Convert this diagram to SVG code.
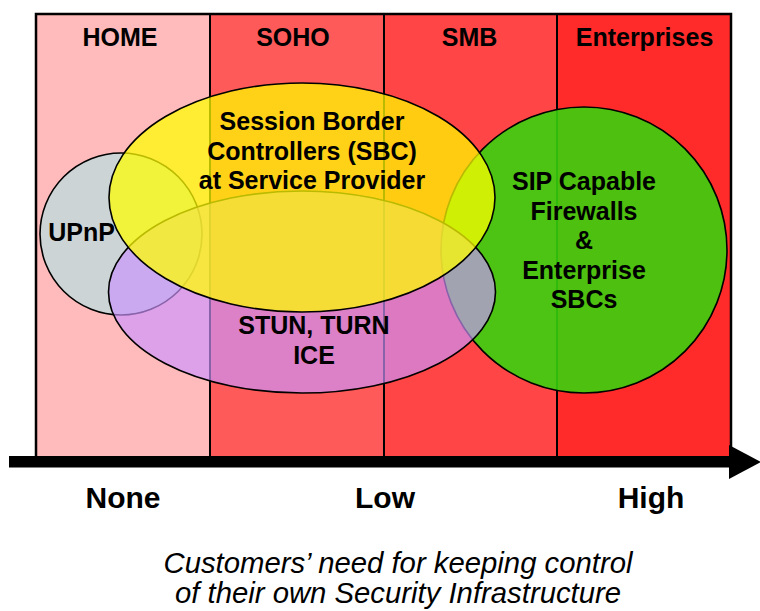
<svg xmlns="http://www.w3.org/2000/svg" width="760" height="611" viewBox="0 0 760 611">
  <style>
    .lbl { font-family: "Liberation Sans", Arial, sans-serif; font-weight: bold; font-size: 25px; fill: #000; text-anchor: middle; }
    .axis { font-family: "Liberation Sans", Arial, sans-serif; font-weight: bold; font-size: 30px; fill: #000; text-anchor: middle; }
    .cap { font-family: "Liberation Sans", Arial, sans-serif; font-style: italic; font-size: 29.3px; fill: #000; text-anchor: middle; }
    .col { stroke: #000; stroke-width: 2; }
    .shape { stroke: #000; stroke-width: 1.6; }
  </style>
  <rect width="760" height="611" fill="#fff"/>

  <g id="columns">
    <rect x="36" y="14" width="174" height="442" fill="#FFBBBB"/>
    <rect x="210" y="14" width="174" height="442" fill="#FF5A5A"/>
    <rect x="384" y="14" width="173" height="442" fill="#FF4545"/>
    <rect x="557" y="14" width="174" height="442" fill="#FF2A2A"/>
    <line class="col" x1="210" y1="14" x2="210" y2="456"/>
    <line class="col" x1="384" y1="14" x2="384" y2="456"/>
    <line class="col" x1="557" y1="14" x2="557" y2="456"/>
    <polyline fill="none" stroke="#000" stroke-width="2.5" points="36,456 36,14 731,14 731,456"/>
  </g>

  <g id="node-sip-firewalls">
    <circle class="shape" cx="584" cy="250" r="143" fill="#34D50D" fill-opacity="0.88"/>
  </g>
  <g id="node-upnp">
    <circle class="shape" cx="121" cy="234" r="81" fill="#CCD4D6"/>
  </g>
  <g id="node-stun">
    <ellipse class="shape" cx="302" cy="292" rx="193.5" ry="101" fill="#CB93FE" fill-opacity="0.67"/>
  </g>
  <g id="node-sbc">
    <ellipse class="shape" cx="302" cy="197.5" rx="193" ry="114.5" fill="#FFFF00" fill-opacity="0.73"/>
  </g>

  <g id="labels">
    <text class="lbl" x="120" y="46">HOME</text>
    <text class="lbl" x="293" y="46">SOHO</text>
    <text class="lbl" x="469.5" y="46">SMB</text>
    <text class="lbl" x="644.5" y="46">Enterprises</text>

    <text class="lbl" x="312" y="130">Session Border</text>
    <text class="lbl" x="312" y="159.5">Controllers (SBC)</text>
    <text class="lbl" x="312" y="189">at Service Provider</text>

    <text class="lbl" x="81.5" y="241">UPnP</text>

    <text class="lbl" x="314" y="334">STUN, TURN</text>
    <text class="lbl" x="314" y="364">ICE</text>

    <text class="lbl" x="584" y="190">SIP Capable</text>
    <text class="lbl" x="584" y="219.5">Firewalls</text>
    <text class="lbl" x="584" y="249">&amp;</text>
    <text class="lbl" x="584" y="278.5">Enterprise</text>
    <text class="lbl" x="584" y="308">SBCs</text>
  </g>

  <g id="axis">
    <rect x="9" y="456" width="722" height="11.5" fill="#000"/>
    <polygon points="729,445 761,462 729,479" fill="#000"/>
    <text class="axis" x="123" y="508">None</text>
    <text class="axis" x="385" y="508">Low</text>
    <text class="axis" x="651" y="508">High</text>
  </g>

  <g id="caption">
    <text class="cap" x="398" y="573">Customers’ need for keeping control</text>
    <text class="cap" x="398" y="603">of their own Security Infrastructure</text>
  </g>
</svg>
